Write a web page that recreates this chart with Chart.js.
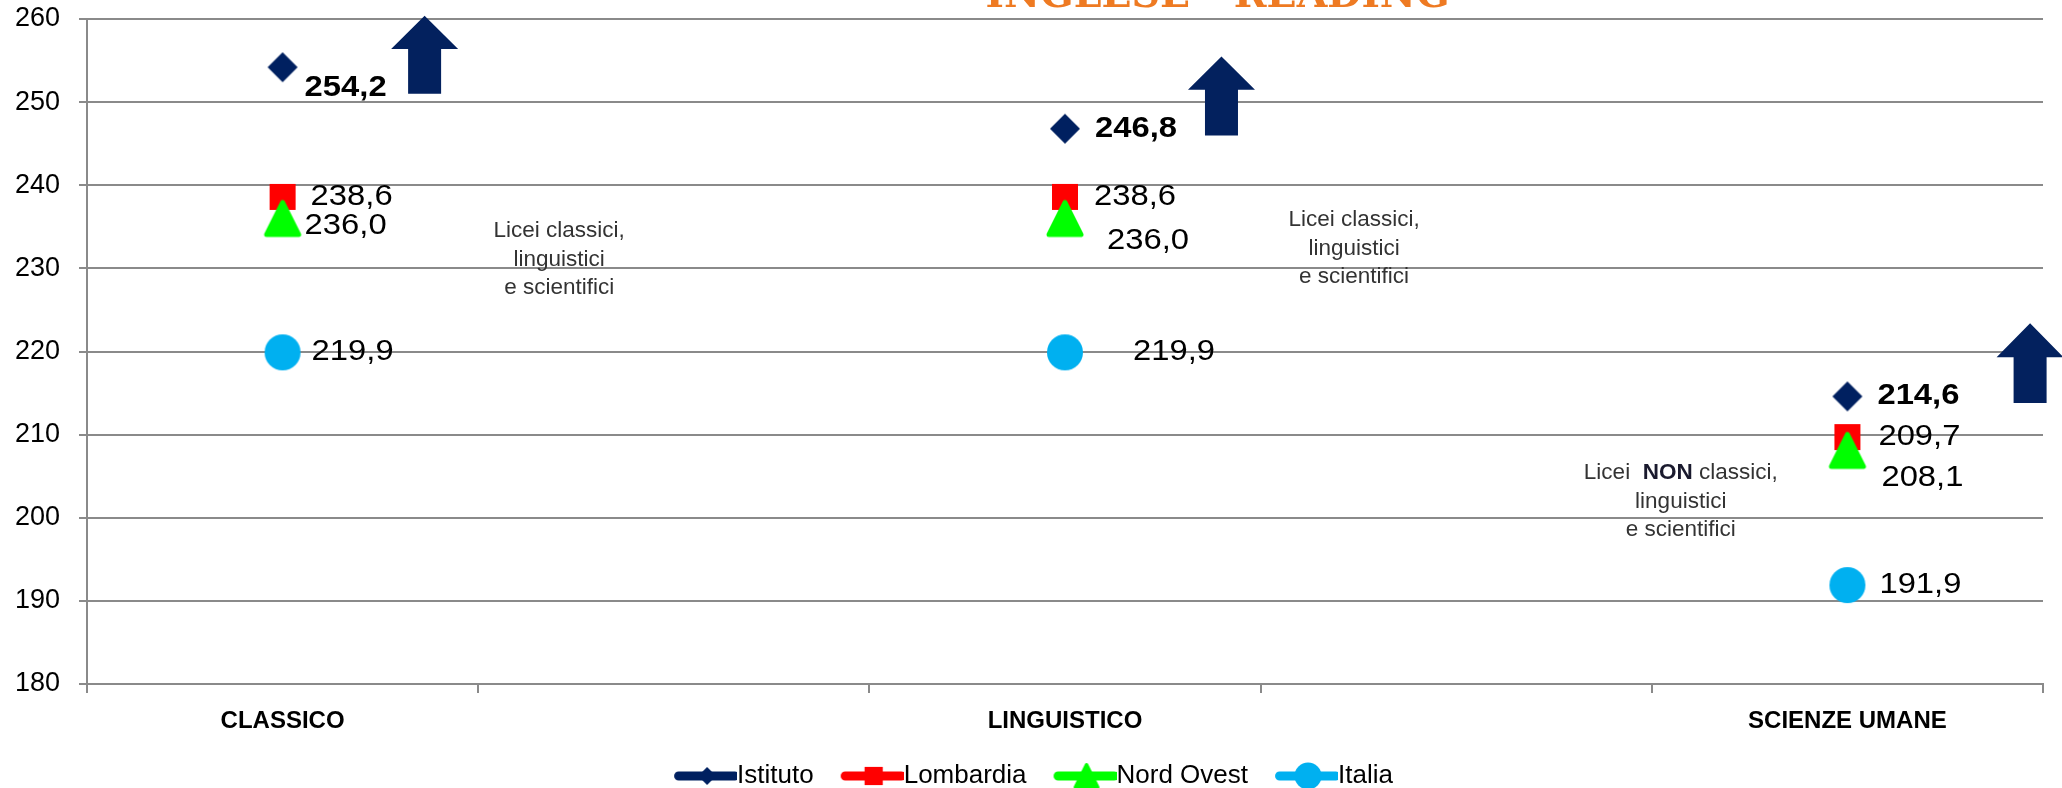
<!DOCTYPE html>
<html>
<head>
<meta charset="utf-8">
<script src="https://cdn.jsdelivr.net/npm/chart.js@4.4.1/dist/chart.umd.min.js"></script>
<style>
  html, body { margin: 0; padding: 0; background: #fff; }
  #wrap { width: 2062px; height: 788px; position: relative; }
</style>
</head>
<body>
<div id="wrap"><canvas id="canvas"></canvas></div>
<script>
(function () {

  // dati (slot vuoti tra le categorie)
  const categorie = ['CLASSICO', '', 'LINGUISTICO', '', 'SCIENZE UMANE'];
  const istituto  = [254.2, null, 246.8, null, 214.6];
  const lombardia = [238.6, null, 238.6, null, 209.7];
  const nordOvest = [236.0, null, 236.0, null, 208.1];
  const italia    = [219.9, null, 219.9, null, 191.9];
  const serie     = ['Istituto', 'Lombardia', 'Nord Ovest', 'Italia'];
  const yMin = 180, yMax = 260, yStep = 10;

  const colori = ['#002060', '#ff0000', '#00ff00', '#00b0f0'];
  const gridColor = '#8a8a8a';
  const sans = '"Liberation Sans", Arial, sans-serif';

  // spostamento etichette valori [dx, dy] rispetto al punto
  const labelOffsets = [
    [[22, 21], null, [30, 0], null, [30, 0]],
    [[28, 0], null, [29, 0], null, [31, 0]],
    [[22, 7], null, [42, 22], null, [34, 28]],
    [[29, 0], null, [68, 0], null, [32, 0]]
  ];

  // frecce: posizione x in indice categoria, y in valori
  const frecce = [
    { i: 0.363, top: 260.4, neck: 256.4, bottom: 251.0 },
    { i: 2.40,  top: 255.5, neck: 251.5, bottom: 246.0 },
    { i: 4.467, top: 223.4, neck: 219.3, bottom: 213.8 }
  ];

  const note = [
    { i: 0.707, y: 234.5, righe: [['Licei classici,'], ['linguistici'], ['e scientifici']] },
    { i: 2.739, y: 235.8, righe: [['Licei classici,'], ['linguistici'], ['e scientifici']] },
    { i: 3.574, y: 205.4, righe: [['Licei  ', 'NON', ' classici,'], ['linguistici'], ['e scientifici']] }
  ];

  function el(sel) { return document.querySelector(sel); }

  function drawShape(ctx, kind, color, cx, cy) {
    ctx.fillStyle = color;
    ctx.strokeStyle = color;
    ctx.beginPath();
    if (kind === 'diamond') {
      ctx.moveTo(cx, cy - 15); ctx.lineTo(cx + 15, cy); ctx.lineTo(cx, cy + 15); ctx.lineTo(cx - 15, cy);
      ctx.closePath(); ctx.fill();
    } else if (kind === 'square') {
      ctx.rect(cx - 13, cy - 13, 26, 26); ctx.fill();
    } else if (kind === 'triangle') {
      ctx.lineJoin = 'round'; ctx.lineWidth = 5;
      ctx.moveTo(cx, cy - 16); ctx.lineTo(cx + 16, cy + 16); ctx.lineTo(cx - 16, cy + 16);
      ctx.closePath(); ctx.fill(); ctx.stroke();
    } else {
      ctx.arc(cx, cy, 18, 0, Math.PI * 2); ctx.fill();
    }
  }

  function marker(kind, color) {
    const c = document.createElement('canvas');
    c.width = 40; c.height = 40;
    drawShape(c.getContext('2d'), kind, color, 20, 20);
    return c;
  }

  function legendIcon(kind, color) {
    const c = document.createElement('canvas');
    c.width = 97; c.height = 30;
    const ctx = c.getContext('2d');
    ctx.strokeStyle = color; ctx.lineWidth = 9; ctx.lineCap = 'round';
    ctx.beginPath(); ctx.moveTo(38.5, 15); ctx.lineTo(95, 15); ctx.stroke();
    ctx.save();
    ctx.translate(67, 15);
    const s = kind === 'circle' ? 0.75 : (kind === 'diamond' ? 0.6 : 0.7);
    ctx.scale(s, s);
    drawShape(ctx, kind, color, 0, 0);
    ctx.restore();
    return c;
  }

  const forme = ['diamond', 'square', 'triangle', 'circle'];
  const valori = [istituto, lombardia, nordOvest, italia];
  const legendImgs = forme.map((f, k) => legendIcon(f, colori[k]));

  const datasets = serie.map((nome, k) => ({
    label: nome,
    data: valori[k],
    borderColor: colori[k],
    backgroundColor: colori[k],
    borderWidth: 9,
    pointStyle: marker(forme[k], colori[k]),
    pointRadius: 10,
    showLine: true,
    spanGaps: false,
    order: k === 1 ? 1 : 0
  }));

  const valueLabels = {
    id: 'valueLabels',
    afterDatasetsDraw(chart) {
      const ctx = chart.ctx;
      chart.data.datasets.forEach((ds, k) => {
        const meta = chart.getDatasetMeta(k);
        meta.data.forEach((pt, j) => {
          const v = ds.data[j];
          if (v == null) return;
          const off = labelOffsets[k][j];
          ctx.save();
          ctx.font = (k === 0 ? 'bold ' : '') + '29px ' + sans;
          ctx.fillStyle = '#000';
          ctx.textAlign = 'left';
          ctx.textBaseline = 'middle';
          ctx.translate(pt.x + off[0], pt.y + off[1]);
          ctx.scale(1.13, 1);
          ctx.fillText(v.toFixed(1).replace('.', ','), 0, 0);
          ctx.restore();
        });
      });
    }
  };

  const extras = {
    id: 'extras',
    afterDraw(chart) {
      const ctx = chart.ctx;
      const xs = chart.scales.x, ys = chart.scales.y;
      const slot = (xs.right - xs.left) / categorie.length;
      const px = i => xs.left + (i + 0.5) * slot;

      // titolo (tagliato in alto come nell'originale)
      ctx.save();
      ctx.font = 'bold 40px "DejaVu Serif", serif';
      ctx.fillStyle = '#ee7a22';
      const titolo = 'INGLESE - READING';
      const w = ctx.measureText(titolo).width;
      ctx.translate(xs.left + (xs.right - xs.left) * 0.578, 7);
      ctx.scale(464 / w, 1);
      ctx.textAlign = 'center';
      ctx.textBaseline = 'alphabetic';
      ctx.fillText(titolo, 0, 0);
      ctx.restore();

      // frecce
      ctx.save();
      ctx.fillStyle = '#03215e';
      frecce.forEach(f => {
        const x = px(f.i);
        const yt = ys.getPixelForValue(f.top);
        const yn = ys.getPixelForValue(f.neck);
        const yb = ys.getPixelForValue(f.bottom);
        ctx.beginPath();
        ctx.moveTo(x, yt);
        ctx.lineTo(x + 33.5, yn);
        ctx.lineTo(x + 16.5, yn);
        ctx.lineTo(x + 16.5, yb);
        ctx.lineTo(x - 16.5, yb);
        ctx.lineTo(x - 16.5, yn);
        ctx.lineTo(x - 33.5, yn);
        ctx.closePath();
        ctx.fill();
      });
      ctx.restore();

      // note di testo
      ctx.save();
      ctx.textBaseline = 'middle';
      ctx.textAlign = 'left';
      note.forEach(n => {
        const cx = px(n.i);
        let y = ys.getPixelForValue(n.y);
        n.righe.forEach(parti => {
          const fonts = parti.map(p => (p === 'NON' ? 'bold ' : '') + '22.5px ' + sans);
          let tot = 0;
          parti.forEach((p, q) => { ctx.font = fonts[q]; tot += ctx.measureText(p).width; });
          let x = cx - tot / 2;
          parti.forEach((p, q) => {
            ctx.font = fonts[q];
            ctx.fillStyle = p === 'NON' ? '#1a1a2e' : '#333';
            ctx.fillText(p, x, y);
            x += ctx.measureText(p).width;
          });
          y += 28.5;
        });
      });
      ctx.restore();
    }
  };

  const ticksY = [];
  for (let v = yMin; v <= yMax; v += yStep) ticksY.push(v);

  new Chart(el('#canvas').getContext('2d'), {
    type: 'line',
    data: { labels: categorie, datasets: datasets },
    options: {
      responsive: true,
      maintainAspectRatio: false,
      animation: false,
      events: [],
      layout: { padding: { top: 18, right: 16, bottom: -11, left: 0 } },
      scales: {
        x: {
          offset: true,
          grid: { display: true, offset: true, drawOnChartArea: false, drawTicks: true, tickLength: 9, color: gridColor, lineWidth: 2 },
          border: { display: true, color: gridColor, width: 2 },
          ticks: { font: { family: sans, size: 24, weight: 'bold' }, color: '#000', padding: 14, maxRotation: 0, autoSkip: false },
          afterFit(scale) { scale.height = 73; }
        },
        y: {
          min: yMin, max: yMax,
          afterBuildTicks(scale) { scale.ticks = ticksY.map(v => ({ value: v })); },
          grid: { color: gridColor, lineWidth: 2, drawTicks: true, tickLength: 8 },
          border: { display: true, color: gridColor, width: 2 },
          ticks: { font: { family: sans, size: 27 }, color: '#000', padding: 19 },
          afterFit(scale) { scale.width = 87; scale.paddingTop = 0; scale.paddingBottom = 0; }
        }
      },
      plugins: {
        legend: {
          position: 'bottom',
          labels: {
            usePointStyle: true,
            pointStyleWidth: 71,
            padding: 6,
            color: '#000',
            font: { family: sans, size: 26 },
            generateLabels(chart) {
              return chart.data.datasets.map((ds, k) => ({
                text: ds.label,
                pointStyle: legendImgs[k],
                fillStyle: ds.borderColor,
                strokeStyle: ds.borderColor,
                lineWidth: 0,
                hidden: false,
                datasetIndex: k,
                fontColor: '#000'
              }));
            }
          }
        },
        tooltip: { enabled: false }
      }
    },
    plugins: [valueLabels, extras]
  });

}());
</script>
</body>
</html>
